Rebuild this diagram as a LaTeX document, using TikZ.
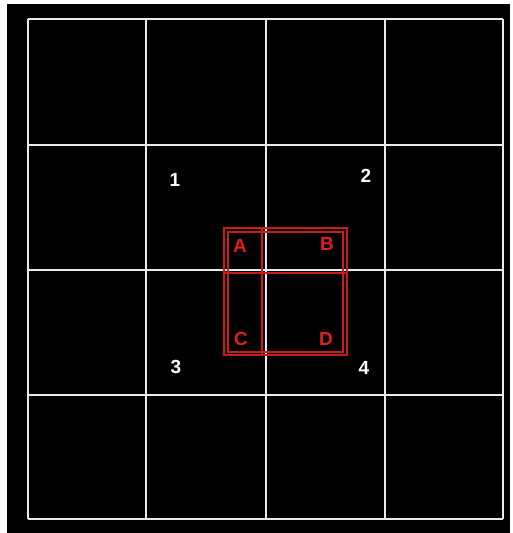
\documentclass[tikz,border=0pt]{standalone}
\usepackage{fontspec}
\setmainfont{Liberation Sans}
\definecolor{myred}{RGB}{225,30,28}
\begin{document}
\begin{tikzpicture}[x=1pt,y=-1pt,
  gridline/.style={draw=white!92!black,line width=2.6pt},
  redline/.style={draw=myred!90!black,line width=2pt},
  wlabel/.style={text=white,font=\fontsize{19}{19}\selectfont\bfseries,inner sep=0pt},
  rlabel/.style={text=myred,font=\fontsize{19}{19}\selectfont\bfseries,inner sep=0pt}]
\useasboundingbox (0,0) rectangle (513,533);
\fill[white] (0,0) rectangle (513,533);
\fill[black] (7,4) rectangle (510,533);
% grid
\foreach \x in {28,146,266,385,503} \draw[gridline] (\x,19) -- (\x,519);
\foreach \y in {19,145,270,395,519} \draw[gridline] (28,\y) -- (503,\y);
% red boxes
\draw[redline] (224,228) rectangle (347,355);
\draw[redline] (227.5,231.5) rectangle (343,351.5);
\draw[redline] (262,228) -- (262,355);
\draw[redline] (224,273) -- (347,273);
% labels
\node[wlabel] (n1) at (175,180) {1};
\node[wlabel] (n2) at (366,176) {2};
\node[wlabel] (n3) at (176,367) {3};
\node[wlabel] (n4) at (364,368) {4};
\node[rlabel] (a) at (240,246) {A};
\node[rlabel] (b) at (327,244) {B};
\node[rlabel] (c) at (241,339) {C};
\node[rlabel] (d) at (326,339) {D};
\end{tikzpicture}
\end{document}
